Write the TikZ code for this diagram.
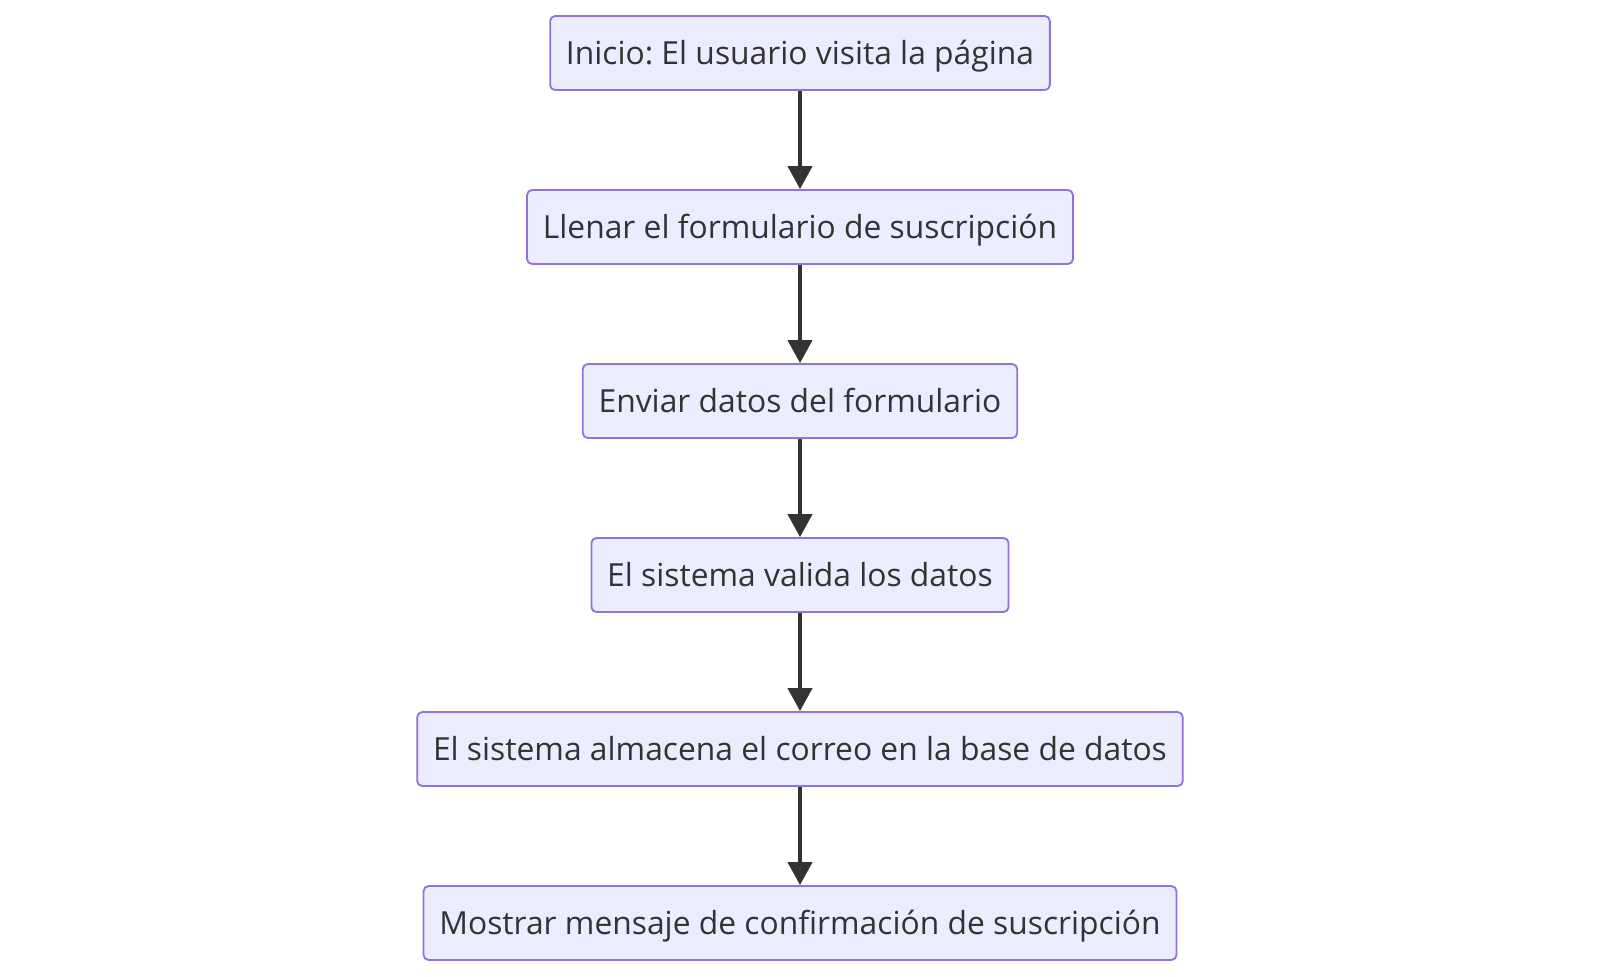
\documentclass[tikz,border=0pt]{standalone}
\usepackage{fontspec}
\setmainfont{Open Sans}
\usetikzlibrary{positioning,arrows.meta}
\definecolor{cajafondo}{HTML}{ECECFF}
\definecolor{cajaborde}{HTML}{9370DB}
\definecolor{texto}{HTML}{333333}
\frenchspacing

\tikzset{
  paso/.style={draw=cajaborde, fill=cajafondo, rectangle, rounded corners=2.5pt, line width=0.9pt,
    minimum height=37pt, inner xsep=7.9pt, text height=12pt, text depth=1pt, text=texto,
    font=\fontsize{15.9pt}{19pt}\selectfont},
  flecha/.style={-{Triangle[width=12pt,length=11.5pt]}, line width=2pt, texto}
}

\begin{document}
\begin{tikzpicture}
\useasboundingbox (0,0) rectangle (800pt,-488pt);

\node[paso] (inicio) at (400pt,-26.5pt) {Inicio: El usuario visita la página};
\node[paso, below=49.1pt of inicio] (llenar) {Llenar el formulario de suscripción};
\node[paso, below=49.1pt of llenar] (enviar) {Enviar datos del formulario};
\node[paso, below=49.1pt of enviar] (validar) {El sistema valida los datos};
\node[paso, below=49.1pt of validar] (almacenar) {El sistema almacena el correo en la base de datos};
\node[paso, below=49.1pt of almacenar] (mensaje) {Mostrar mensaje de confirmación de suscripción};

\draw [flecha] (inicio) -- (llenar);
\draw [flecha] (llenar) -- (enviar);
\draw [flecha] (enviar) -- (validar);
\draw [flecha] (validar) -- (almacenar);
\draw [flecha] (almacenar) -- (mensaje);
\end{tikzpicture}
\end{document}
